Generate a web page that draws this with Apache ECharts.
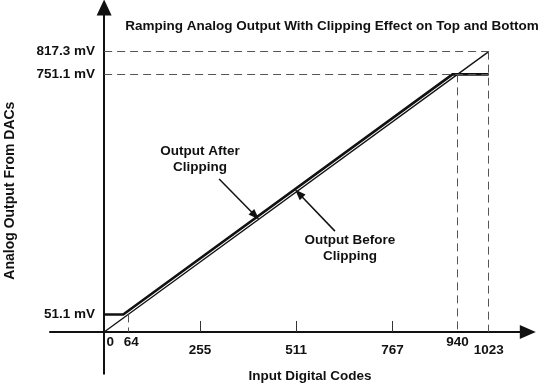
<!DOCTYPE html>
<html><head><meta charset="utf-8">
<script src="https://cdn.jsdelivr.net/npm/echarts@6/dist/echarts.min.js"></script>
<style>html,body{margin:0;padding:0;background:#fff}#c{width:547px;height:383px}</style>
</head><body><div id="c"></div>
<script>
// ---- data ----
const codeTicks = [0, 64, 255, 511, 767, 940, 1023];
const minorTickCodes = [255, 511, 767];
const mvLabels = [51.1, 751.1, 817.3];
const idealX = [0, 1023];
const idealY = [0, 817.3];
const clipX = [0, 64, 940, 1023];
const clipY = [51.1, 51.1, 751.1, 751.1];
const afterLabelPos = [255, 504];
const afterArrow = [[306, 446], [402, 339]];
const beforeLabelPos = [654, 245];
const beforeArrow = [[614, 294], [518, 404]];

const FONT = "'Liberation Sans', Arial, Helvetica, sans-serif";
const FS = 13.5;
const chart = echarts.init(document.getElementById('c'), null, {renderer: 'canvas'});
const dash = {color: '#555', width: 1, type: [8, 5]};
const upperLabels = [0, 64, 940];
const txt = {fontFamily: FONT, fontWeight: 'bold', fontSize: FS, color: '#111'};

chart.setOption({
  animation: false,
  title: {
    text: 'Ramping Analog Output With Clipping Effect on Top and Bottom',
    left: 327, top: 14, textAlign: 'center',
    textStyle: Object.assign({}, txt, {fontSize: 13.5})
  },
  grid: {left: 50, right: 19.2, top: 7.5, bottom: 9.2, containLabel: false, outerBoundsMode: 'none'},
  xAxis: {
    type: 'value', min: -144, max: 1127,
    name: 'Input Digital Codes', nameLocation: 'middle', nameGap: -5, nameMoveOverlap: false,
    nameTextStyle: Object.assign({}, txt, {padding: [0, 0, 0, 42]}),
    axisLine: {onZero: true, symbol: ['none', 'triangle'], symbolSize: [14, 16], lineStyle: {color: '#111', width: 2}},
    axisTick: {show: true, inside: true, length: 11, customValues: minorTickCodes, lineStyle: {color: '#333', width: 1}},
    splitLine: {show: false},
    axisLabel: {
      customValues: codeTicks, margin: -38.5,
      fontFamily: FONT, fontWeight: 'bold', fontSize: FS, color: '#111',
      formatter: function (v) {
        const r = Math.round(v);
        if (r === 0) return '{z|0}';
        if (r === 64) return '{s|64}';
        if (upperLabels.indexOf(r) >= 0) return '{u|' + r + '}';
        return '{l|' + r + '}';
      },
      rich: {
        z: Object.assign({}, txt, {padding: [0, 0, 0, 12]}),
        s: Object.assign({}, txt, {padding: [0, 0, 0, 6]}),
        u: Object.assign({}, txt),
        l: Object.assign({}, txt, {padding: [8, 0, 0, 0]})
      }
    }
  },
  yAxis: {
    type: 'value', min: -122, max: 946,
    name: 'Analog Output From DACs', nameLocation: 'middle', nameGap: 33, nameRotate: 90, nameMoveOverlap: false,
    nameTextStyle: Object.assign({}, txt, {fontSize: 14}),
    axisLine: {onZero: true, symbol: ['none', 'triangle'], symbolSize: [15, 16], lineStyle: {color: '#111', width: 2}},
    axisTick: {show: false},
    splitLine: {show: false},
    axisLabel: {
      customValues: mvLabels, margin: -45,
      fontFamily: FONT, fontWeight: 'bold', fontSize: FS, color: '#111',
      formatter: function (v) { return v.toFixed(1) + ' mV'; }
    }
  },
  series: [
    {
      type: 'line', name: 'Output Before Clipping',
      data: idealX.map((x, i) => [x, idealY[i]]),
      showSymbol: false, symbol: 'none',
      lineStyle: {color: '#111', width: 1.3},
      z: 3,
      markLine: {
        silent: true, symbol: ['none', 'none'], label: {show: false},
        lineStyle: dash,
        data: [
          [{coord: [0, 817.3]}, {coord: [1023, 817.3]}],
          [{coord: [0, 751.1]}, {coord: [1023, 751.1]}],
          [{coord: [1023, 817.3]}, {coord: [1023, 0]}],
          [{coord: [940, 751.1]}, {coord: [940, 0]}],
          [{coord: [64, 51.1]}, {coord: [64, 0]}]
        ]
      }
    },
    {
      type: 'custom', name: 'Output After Clipping',
      data: clipX.map((x, i) => [x, clipY[i]]),
      z: 4,
      renderItem: function (params, api) {
        if (params.dataIndex !== 0) return null;
        const pts = clipX.map((x, i) => api.coord([x, clipY[i]]));
        pts[1][0] -= 5; pts[2][0] -= 5;
        return {type: 'polyline', shape: {points: pts}, style: {stroke: '#111', lineWidth: 2.6, fill: null}};
      }
    },
    {
      type: 'line', name: 'annotations', data: [], symbol: 'none', z: 5,
      markPoint: {
        silent: true, symbol: 'circle', symbolSize: 0,
        label: {show: true, position: 'inside', fontFamily: FONT, fontWeight: 'bold', fontSize: FS, color: '#111', lineHeight: 16, align: 'center', verticalAlign: 'middle'},
        data: [
          {coord: afterLabelPos, value: 'Output After\nClipping', label: {formatter: 'Output After\nClipping'}},
          {coord: beforeLabelPos, value: 'Output Before\nClipping', label: {formatter: 'Output Before\nClipping'}}
        ]
      },
      markLine: {
        silent: true, symbol: ['none', 'triangle'], symbolSize: [8, 11], label: {show: false},
        lineStyle: {color: '#111', width: 1.5, type: 'solid'},
        data: [
          [{coord: afterArrow[0]}, {coord: afterArrow[1]}],
          [{coord: beforeArrow[0]}, {coord: beforeArrow[1]}]
        ]
      }
    }
  ]
});
</script></body></html>
